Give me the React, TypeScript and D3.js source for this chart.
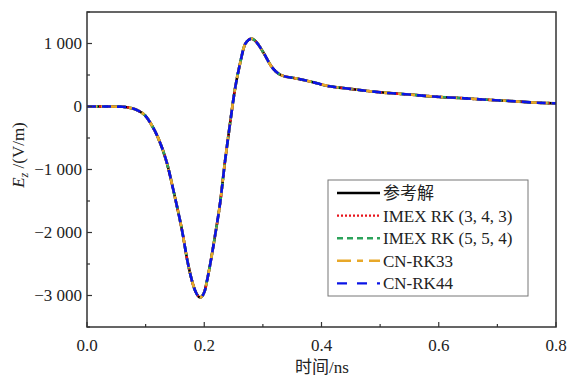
import * as d3 from "d3";

// time axis (ns) and Ez (V/m); all schemes overlap the reference
const times = [0, 0.03, 0.06, 0.07, 0.085, 0.099, 0.11, 0.121, 0.136, 0.15, 0.162, 0.172, 0.184, 0.193, 0.2, 0.206, 0.218, 0.227, 0.235, 0.244, 0.252, 0.261, 0.27, 0.281, 0.29, 0.299, 0.316, 0.333, 0.355, 0.384, 0.414, 0.43, 0.449, 0.475, 0.505, 0.55, 0.59, 0.635, 0.675, 0.72, 0.761, 0.8];
const ezValues = [0, 0, -5, -15, -55, -142, -290, -490, -886, -1440, -1962, -2484, -2911, -3030, -2950, -2706, -2073, -1535, -902, -269, 253, 680, 997, 1076, 1010, 886, 617, 490, 450, 390, 320, 300, 280, 250, 221, 190, 158, 135, 111, 88, 63, 50];

const seriesNames = ["参考解", "IMEX RK (3, 4, 3)", "IMEX RK (5, 5, 4)", "CN-RK33", "CN-RK44"];
const seriesColors = ["#000000", "#e8141c", "#2ca35a", "#e8a829", "#0a14e6"];
const seriesDash = ["", "2,2", "6,3,2,3", "10,4,3,4", "9,6"];
const legendDash = ["", "2,2", "6,4", "14,6,6,6", "10,10"];

const xTicks = [0, 0.2, 0.4, 0.6, 0.8];
const xMinor = [0.1, 0.3, 0.5, 0.7];
const yTicks = [1000, 0, -1000, -2000, -3000];
const yMinor = [1500, 500, -500, -1500, -2500, -3500];

const W = 568;
const H = 382;
const m = {left: 87, right: 556, top: 12, bottom: 327};
const font = "'Liberation Serif', 'Times New Roman', 'Noto Sans CJK SC', serif";

const fmtY = (v: number) => {
	const s = Math.abs(v) >= 1000 ? `${Math.floor(Math.abs(v) / 1000)} 000` : `${Math.abs(v)}`;
	return v < 0 ? `\u2212${s}` : s;
};

export default function App() {
	const x = d3.scaleLinear().domain([0, 0.8]).range([m.left, m.right]);
	const y = d3.scaleLinear().domain([-3500, 1500]).range([m.bottom, m.top]);
	const pts: [number, number][] = times.map((t, i) => [t, ezValues[i]]);
	const line = d3
		.line<[number, number]>()
		.x((d) => x(d[0]))
		.y((d) => y(d[1]))
		.curve(d3.curveMonotoneX);
	const path = line(pts) || "";

	const lx = 337;
	const ly0 = 193;
	const lstep = 22.6;

	return (
		<svg width={W} height={H} style={{position: "absolute", left: 0, top: 0}} fontFamily={font}>
			<rect width={W} height={H} fill="#fff" />
			<defs>
				<clipPath id="plot">
					<rect x={m.left} y={m.top} width={m.right - m.left} height={m.bottom - m.top} />
				</clipPath>
			</defs>
			<g clipPath="url(#plot)">
				{seriesNames.map((n, i) => (
					<path
						key={n}
						d={path}
						fill="none"
						stroke={seriesColors[i]}
						strokeWidth={2.6}
						strokeDasharray={seriesDash[i] || undefined}
					/>
				))}
			</g>
			{/* frame */}
			<rect
				x={m.left}
				y={m.top}
				width={m.right - m.left}
				height={m.bottom - m.top}
				fill="none"
				stroke="#333"
				strokeWidth={1.5}
			/>
			{/* x ticks */}
			{xTicks.map((t) => (
				<g key={t}>
					<line x1={x(t)} x2={x(t)} y1={m.bottom} y2={m.bottom - 5} stroke="#333" strokeWidth={1.2} />
					<text x={x(t)} y={m.bottom + 24} textAnchor="middle" fontSize={17} fill="#222">
						{t.toFixed(1)}
					</text>
				</g>
			))}
			{xMinor.map((t) => (
				<line key={t} x1={x(t)} x2={x(t)} y1={m.bottom} y2={m.bottom - 3} stroke="#333" strokeWidth={1.2} />
			))}
			{/* y ticks */}
			{yTicks.map((v) => (
				<g key={v}>
					<line x1={m.left} x2={m.left + 5} y1={y(v)} y2={y(v)} stroke="#333" strokeWidth={1.2} />
					<text x={m.left - 5} y={y(v)} dy="0.35em" textAnchor="end" fontSize={17} fill="#222">
						{fmtY(v)}
					</text>
				</g>
			))}
			{yMinor.map((v) => (
				<line key={v} x1={m.left} x2={m.left + 3} y1={y(v)} y2={y(v)} stroke="#333" strokeWidth={1.2} />
			))}
			{/* axis titles */}
			<text x={322} y={373} textAnchor="middle" fontSize={17} fill="#222">
				时间/ns
			</text>
			<text transform="translate(24,155) rotate(-90)" textAnchor="middle" fontSize={17} fill="#222">
				<tspan fontStyle="italic">E</tspan>
				<tspan fontStyle="italic" fontSize={12} dy={4}>z</tspan>
				<tspan dy={-4}> /(V/m)</tspan>
			</text>
			{/* legend */}
			<rect x={328} y={180} width={200} height={116} fill="#fff" stroke="#777" strokeWidth={1} />
			{seriesNames.map((n, i) => (
				<g key={n} transform={`translate(0,${ly0 + i * lstep})`}>
					<line
						x1={lx}
						x2={lx + 43}
						y1={0}
						y2={0}
						stroke={seriesColors[i]}
						strokeWidth={2.4}
						strokeDasharray={legendDash[i] || undefined}
					/>
					<text x={lx + 46} y={0} dy="0.35em" fontSize={17} fill="#222">
						{n}
					</text>
				</g>
			))}
		</svg>
	);
}
